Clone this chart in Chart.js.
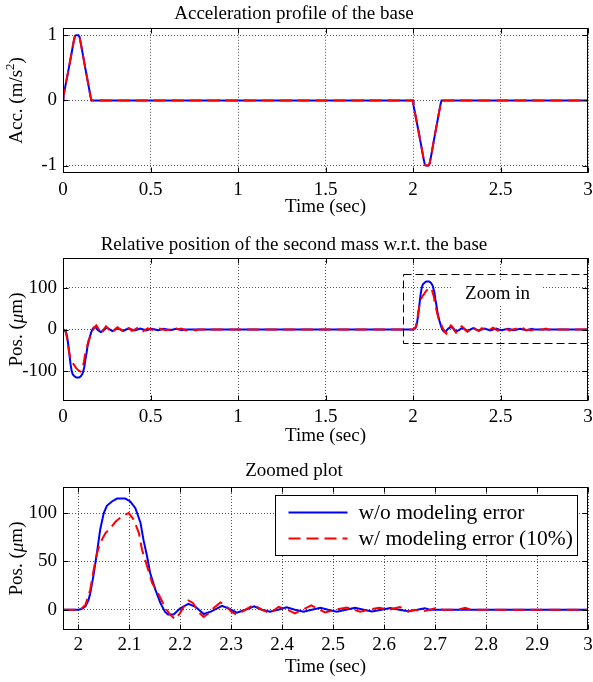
<!DOCTYPE html>
<html><head><meta charset="utf-8">
<script src="https://cdn.jsdelivr.net/npm/chart.js@4/dist/chart.umd.min.js"></script>
<style>
html,body{margin:0;padding:0;background:#fff;}
#wrap{position:relative;width:593px;height:682px;background:#fff;}
canvas{position:absolute;left:0;}
</style></head><body>
<div id="wrap">
<canvas id="c1" width="593" height="220" style="top:0px"></canvas>
<canvas id="c2" width="593" height="230" style="top:220px"></canvas>
<canvas id="c3" width="593" height="232" style="top:450px"></canvas>
</div>
<script>
// ---------- data ----------
const accTime = [0, 0.003, 0.01, 0.03, 0.05, 0.06, 0.068, 0.075, 0.088, 0.095, 0.105, 0.125, 0.145, 0.158, 0.163,
                 2.0, 2.003, 2.01, 2.03, 2.05, 2.06, 2.068, 2.075, 2.088, 2.095, 2.105, 2.125, 2.145, 2.158, 2.163, 3.0];
const accBlue = [0, 0.08, 0.17, 0.45, 0.74, 0.89, 0.99, 1, 1, 0.97, 0.83, 0.53, 0.24, 0.05, 0,
                 0, -0.08, -0.17, -0.45, -0.74, -0.89, -0.99, -1, -1, -0.97, -0.83, -0.53, -0.24, -0.05, 0, 0];
const accRed  = [0, 0.08, 0.17, 0.45, 0.74, 0.89, 0.99, 1, 1, 0.97, 0.83, 0.53, 0.24, 0.05, 0,
                 0, -0.08, -0.17, -0.45, -0.74, -0.89, -0.99, -1, -1, -0.97, -0.83, -0.53, -0.24, -0.05, 0, 0];

const posTimeBlue = [0, 0.007, 0.014, 0.02, 0.0235, 0.03, 0.0366, 0.043, 0.05, 0.056, 0.066, 0.076, 0.092, 0.102, 0.112, 0.122, 0.128, 0.135, 0.141, 0.151, 0.161, 0.17, 0.176, 0.187, 0.2, 0.216, 0.23, 0.246, 0.26, 0.282, 0.296, 0.311, 0.328, 0.345, 0.36, 0.376, 0.392, 0.409, 0.425, 0.442, 0.458, 0.475, 0.49, 0.507, 0.525, 0.543, 0.56, 0.576, 0.595, 0.612, 0.63, 0.647, 0.665, 0.68, 0.69,
  2, 2.007, 2.014, 2.02, 2.0235, 2.03, 2.0366, 2.043, 2.05, 2.056, 2.066, 2.076, 2.092, 2.102, 2.112, 2.122, 2.128, 2.135, 2.141, 2.151, 2.161, 2.17, 2.176, 2.187, 2.2, 2.216, 2.23, 2.246, 2.26, 2.282, 2.296, 2.311, 2.328, 2.345, 2.36, 2.376, 2.392, 2.409, 2.425, 2.442, 2.458, 2.475, 2.49, 2.507, 2.525, 2.543, 2.56, 2.576, 2.595, 2.612, 2.63, 2.647, 2.665, 2.68, 2.69, 3.0];
const posBlue = [0, -0.8, -3.4, -10, -17, -36, -59, -83, -100, -107.6, -112, -115, -115, -112, -105, -90, -72, -55, -38, -21, -7, 2, 5, 5, -1.5, -6, -3, 4.5, 2, -4, -1, 3, 0, -3.4, 0, 2.2, 0, -2.4, 0, 2, 0, -2, 0, 2, 0, -2, 0, 1.8, 0, -1.8, 0, 1.5, 0, -1.6, 0,
  0, 0.8, 3.4, 10, 17, 36, 59, 83, 100, 107.6, 112, 115, 115, 112, 105, 90, 72, 55, 38, 21, 7, -2, -5, -5, 1.5, 6, 3, -4.5, -2, 4, 1, -3, 0, 3.4, 0, -2.2, 0, 2.4, 0, -2, 0, 2, 0, -2, 0, 2, 0, -1.8, 0, 1.8, 0, -1.5, 0, 1.6, 0, 0];

const posTimeRed = [0, 0.007, 0.014, 0.0235, 0.03, 0.037, 0.043, 0.053, 0.063, 0.073, 0.086, 0.099, 0.109, 0.119, 0.125, 0.135, 0.145, 0.158, 0.171, 0.18, 0.19, 0.2, 0.208, 0.216, 0.225, 0.235, 0.246, 0.255, 0.266, 0.279, 0.29, 0.3, 0.311, 0.325, 0.344, 0.36, 0.376, 0.393, 0.41, 0.425, 0.44, 0.457, 0.47, 0.484, 0.505, 0.527, 0.54, 0.553, 0.57, 0.59, 0.61, 0.631, 0.647, 0.66, 0.674, 0.69, 0.703, 0.715, 0.745, 0.759, 0.77,
  2, 2.007, 2.014, 2.0235, 2.03, 2.037, 2.043, 2.053, 2.063, 2.073, 2.086, 2.099, 2.109, 2.119, 2.125, 2.135, 2.145, 2.158, 2.171, 2.18, 2.19, 2.2, 2.208, 2.216, 2.225, 2.235, 2.246, 2.255, 2.266, 2.279, 2.29, 2.3, 2.311, 2.325, 2.344, 2.36, 2.376, 2.393, 2.41, 2.425, 2.44, 2.457, 2.47, 2.484, 2.505, 2.527, 2.54, 2.553, 2.57, 2.59, 2.61, 2.631, 2.647, 2.66, 2.674, 2.69, 2.703, 2.715, 2.745, 2.759, 2.77, 3.0];
const posRed = [0, -1.5, -5, -20.7, -41, -59, -69, -79, -84.5, -91, -97, -100, -93, -79, -62, -45, -27.6, -15.5, -1.7, 5, 10, 3.4, -4, -9.6, -7, 2, 7.6, 4, -2, -7.6, -4, 2, 5.2, 1, -5.2, 0, 3.8, -3, 0, 3.8, 0, -4.5, -1, 2.8, 0, -2.3, 0, 2, 0, -2, 0, -2.8, 2, 0, 2, 0, -2, 0, 0, -2, 0,
  0, 1.5, 5, 20.7, 41, 59, 69, 79, 84.5, 91, 97, 100, 93, 79, 62, 45, 27.6, 15.5, 1.7, -5, -10, -3.4, 4, 9.6, 7, -2, -7.6, -4, 2, 7.6, 4, -2, -5.2, -1, 5.2, 0, -3.8, 3, 0, -3.8, 0, 4.5, 1, -2.8, 0, 2.3, 0, -2, 0, 2, 0, 2.8, -2, 0, -2, 0, 2, 0, 0, 2, 0, 0];

const xTicksFull = [0, 0.5, 1, 1.5, 2, 2.5, 3];
const xTicksZoom = [2, 2.1, 2.2, 2.3, 2.4, 2.5, 2.6, 2.7, 2.8, 2.9, 3];
const yTicksAcc = [-1, 0, 1];
const yTicksPos = [-100, 0, 100];
const yTicksZoom = [0, 50, 100];
const seriesLabels = ['w/o modeling error', 'w/ modeling error (10%)'];
// y-axis titles as [text, style] runs: 'n' normal, 'i' italic, 's' superscript
const yTitleAcc = [['Acc. (m/s', 'n'], ['2', 's'], [')', 'n']];
const yTitlePos = [['Pos. (', 'n'], ['μ', 'i'], ['m)', 'n']];
const zoomBoxX = [1.945, 3.0];
const zoomBoxY = [-33, 133];
const zoomLabelAt = [2.483, 86];

// ---------- helpers ----------
const FAM = '"Liberation Serif", "Times New Roman", serif';
Chart.defaults.font.family = FAM;
Chart.defaults.color = '#000';
const BLUE = '#0000ff', RED = '#ff0000', DASH = [12, 6];

const zip = (xs, ys) => xs.map((x, i) => ({x, y: ys[i]}));

const framePlugin = {
  id: 'frame',
  afterDatasetsDraw(chart) {
    const {ctx, chartArea: a, scales: {x, y}} = chart;
    ctx.save();
    ctx.strokeStyle = '#000';
    ctx.lineWidth = 1;
    ctx.setLineDash([]);
    const L = Math.round(a.left) + 0.5, R = Math.round(a.right) - 0.5;
    const T = Math.round(a.top) + 0.5, B = Math.round(a.bottom) - 0.5;
    ctx.beginPath();
    x.ticks.forEach(t => {
      const p = Math.round(x.getPixelForValue(t.value)) + 0.5;
      ctx.moveTo(p, B); ctx.lineTo(p, B - 5);
      ctx.moveTo(p, T); ctx.lineTo(p, T + 5);
    });
    y.ticks.forEach(t => {
      const p = Math.round(y.getPixelForValue(t.value)) + 0.5;
      ctx.moveTo(L, p); ctx.lineTo(L + 5, p);
      ctx.moveTo(R, p); ctx.lineTo(R - 5, p);
    });
    ctx.stroke();
    ctx.strokeRect(L, T, R - L, B - T);
    ctx.restore();
  }
};

function yTitlePlugin(runs) {
  return {
    id: 'yTitleRuns',
    afterDraw(chart) {
      const {ctx, chartArea: a} = chart;
      const fontOf = st => st === 'i' ? 'italic 19px ' + FAM : st === 's' ? '13px ' + FAM : '19px ' + FAM;
      ctx.save();
      let total = 0;
      runs.forEach(([t, st]) => { ctx.font = fontOf(st); total += ctx.measureText(t).width; });
      ctx.translate(17.5, (a.top + a.bottom) / 2);
      ctx.rotate(-Math.PI / 2);
      ctx.fillStyle = '#000';
      ctx.textBaseline = 'middle';
      ctx.textAlign = 'left';
      let cx = -total / 2;
      runs.forEach(([t, st]) => {
        ctx.font = fontOf(st);
        ctx.fillText(t, cx, st === 's' ? -7 : 0);
        cx += ctx.measureText(t).width;
      });
      ctx.restore();
    }
  };
}

function makeChart(id, o) {
  return new Chart(document.getElementById(id), {
    type: 'line',
    data: {datasets: [
      {label: seriesLabels[0], data: o.blue, borderColor: BLUE, borderWidth: 2, pointRadius: 0, tension: 0, order: 1, fill: false},
      {label: seriesLabels[1], data: o.red, borderColor: RED, borderWidth: 2, borderDash: DASH, pointRadius: 0, tension: 0, order: 0, fill: false}
    ]},
    options: {
      responsive: false, animation: false, parsing: false,
      layout: {padding: {left: 0, right: 5, top: 0, bottom: 0}},
      plugins: {
        legend: {display: false}, tooltip: {enabled: false},
        title: {display: true, text: o.title, color: '#000', font: {size: 19, weight: 'normal'}, padding: {top: o.titlePad[0], bottom: o.titlePad[1]}}
      },
      scales: {
        x: {
          type: 'linear', min: o.xMin, max: o.xMax,
          afterBuildTicks: ax => { ax.ticks = o.xTicks.map(v => ({value: v})); },
          afterFit: ax => { ax.height = o.xAxisH; ax.paddingLeft = 0; ax.paddingRight = 0; },
          ticks: {callback: v => String(v), autoSkip: false, maxRotation: 0, padding: o.xTickPad, color: '#000', font: {size: 19}},
          grid: {color: '#555', lineWidth: 1, drawTicks: false},
          border: {display: false, dash: [1, 2]},
          title: {display: true, text: 'Time (sec)', color: '#000', font: {size: 19}, padding: {top: 0, bottom: o.xTitlePad}}
        },
        y: {
          type: 'linear', min: o.yMin, max: o.yMax,
          afterBuildTicks: ax => { ax.ticks = o.yTicks.map(v => ({value: v})); },
          afterFit: ax => { ax.width = 63; ax.paddingTop = 0; ax.paddingBottom = 0; },
          ticks: {callback: v => String(v), autoSkip: false, padding: 6, color: '#000', font: {size: 19}},
          grid: {color: '#555', lineWidth: 1, drawTicks: false},
          border: {display: false, dash: [1, 2]},
          title: {display: false}
        }
      }
    },
    plugins: [framePlugin, yTitlePlugin(o.yTitle)].concat(o.plugins || [])
  });
}

const zoomBoxPlugin = {
  id: 'zoomBox',
  afterDatasetsDraw(chart) {
    const {ctx, scales: {x, y}} = chart;
    ctx.save();
    ctx.font = '19px ' + FAM;
    const lx = x.getPixelForValue(zoomLabelAt[0]), ly = y.getPixelForValue(zoomLabelAt[1]);
    const txt = 'Zoom in';
    const w = ctx.measureText(txt).width;
    ctx.fillStyle = '#fff';
    ctx.fillRect(lx - w / 2 - 12, ly - 12, w + 24, 24);
    ctx.fillStyle = '#000';
    ctx.textAlign = 'center'; ctx.textBaseline = 'middle';
    ctx.fillText(txt, lx, ly);
    ctx.strokeStyle = '#000'; ctx.lineWidth = 1; ctx.setLineDash([8, 4]);
    const x0 = Math.round(x.getPixelForValue(zoomBoxX[0])) + 0.5, x1 = Math.round(x.getPixelForValue(zoomBoxX[1])) - 0.5;
    const y0 = Math.round(y.getPixelForValue(zoomBoxY[1])) + 0.5, y1 = Math.round(y.getPixelForValue(zoomBoxY[0])) + 0.5;
    ctx.strokeRect(x0, y0, x1 - x0, y1 - y0);
    ctx.restore();
  }
};

const legendPlugin = {
  id: 'boxLegend',
  afterDatasetsDraw(chart) {
    const {ctx, chartArea: a} = chart;
    const w = 302, h = 60;
    const x0 = Math.round(a.right - 11 - w) + 0.5, y0 = Math.round(a.top + 8) + 0.5;
    ctx.save();
    ctx.fillStyle = '#fff';
    ctx.fillRect(x0, y0, w, h);
    ctx.strokeStyle = '#000'; ctx.lineWidth = 1; ctx.setLineDash([]);
    ctx.strokeRect(x0, y0, w, h);
    ctx.font = '21.5px ' + FAM;
    ctx.textAlign = 'left'; ctx.textBaseline = 'middle';
    chart.data.datasets.forEach((ds, i) => {
      const ly = y0 + 17 + i * 26;
      ctx.strokeStyle = ds.borderColor; ctx.lineWidth = 2;
      ctx.setLineDash(ds.borderDash || []);
      ctx.beginPath(); ctx.moveTo(x0 + 13, ly); ctx.lineTo(x0 + 72, ly); ctx.stroke();
      ctx.fillStyle = '#000';
      ctx.fillText(ds.label, x0 + 83, ly + 1);
    });
    ctx.restore();
  }
};

makeChart('c1', {
  title: 'Acceleration profile of the base', titlePad: [3, 2],
  blue: zip(accTime, accBlue), red: zip(accTime, accRed),
  xMin: 0, xMax: 3, xTicks: xTicksFull, xAxisH: 47, xTickPad: 6, xTitlePad: 1.6,
  yMin: -1.115, yMax: 1.115, yTicks: yTicksAcc, yTitle: yTitleAcc
});
makeChart('c2', {
  title: 'Relative position of the second mass w.r.t. the base', titlePad: [13.6, 1.6],
  blue: zip(posTimeBlue, posBlue), red: zip(posTimeRed, posRed),
  xMin: 0, xMax: 3, xTicks: xTicksFull, xAxisH: 49, xTickPad: 5, xTitlePad: 2.6,
  yMin: -171, yMax: 171, yTicks: yTicksPos, yTitle: yTitlePos,
  plugins: [zoomBoxPlugin]
});
makeChart('c3', {
  title: 'Zoomed plot', titlePad: [9.6, 4.6],
  blue: zip(posTimeBlue, posBlue), red: zip(posTimeRed, posRed),
  xMin: 1.97, xMax: 3, xTicks: xTicksZoom, xAxisH: 52, xTickPad: 4, xTitlePad: 3.6,
  yMin: -21, yMax: 127, yTicks: yTicksZoom, yTitle: yTitlePos,
  plugins: [legendPlugin]
});
</script>
</body></html>
